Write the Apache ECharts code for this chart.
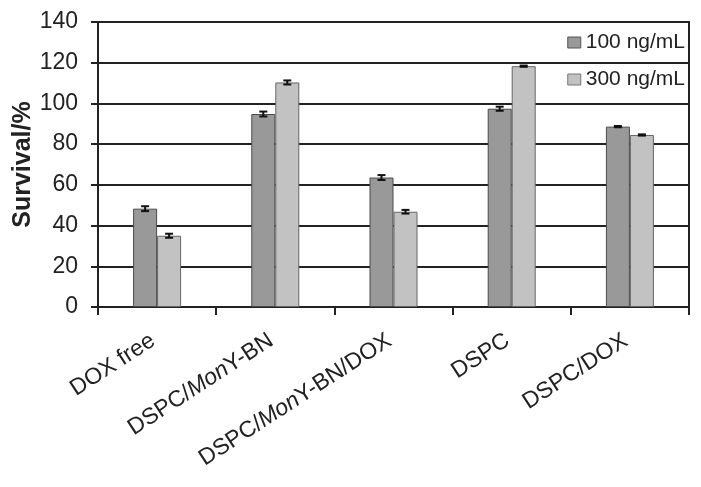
<!DOCTYPE html>
<html><head><meta charset="utf-8">
<script src="https://cdn.jsdelivr.net/npm/echarts@6/dist/echarts.min.js"></script>
<style>html,body{margin:0;padding:0;background:#fff}#c{width:701px;height:487px}</style>
</head><body><div id="c"></div>
<script>
const categories = ['DOX free', 'DSPC/MonY-BN', 'DSPC/MonY-BN/DOX', 'DSPC', 'DSPC/DOX'];
const seriesNames = ['100 ng/mL', '300 ng/mL'];
const values100 = [48.3, 94.8, 63.6, 97.4, 88.6];
const values300 = [35.0, 110.3, 46.8, 118.3, 84.5];
const err100 = [1.2, 1.2, 1.2, 1.0, 0.3];
const err300 = [1.0, 1.0, 0.9, 0.3, 0.3];
const yTicks = [0, 20, 40, 60, 80, 100, 120, 140];

const chart = echarts.init(document.getElementById('c'));
const font = 'Liberation Sans, Arial, sans-serif';

function errSeries(vals, errs, offset) {
  return {
    type: 'custom',
    z: 10,
    silent: true,
    data: vals.map((v, i) => [i, v - errs[i], v + errs[i]]),
    renderItem: function (params, api) {
      const lo = api.coord([api.value(0), api.value(1)]);
      const hi = api.coord([api.value(0), api.value(2)]);
      const x = lo[0] + offset;
      const hw = 4;
      const st = { stroke: '#111', lineWidth: 2 };
      return { type: 'group', children: [
        { type: 'line', shape: { x1: x, y1: lo[1], x2: x, y2: hi[1] }, style: st },
        { type: 'line', shape: { x1: x - hw, y1: lo[1], x2: x + hw, y2: lo[1] }, style: st },
        { type: 'line', shape: { x1: x - hw, y1: hi[1], x2: x + hw, y2: hi[1] }, style: st }
      ]};
    }
  };
}

const labelFmt = function (v) {
  if (v.indexOf('Mon') >= 0) {
    const parts = v.split('Mon');
    return '{a|' + parts[0] + '}{i|Mon}{a|' + parts[1] + '}';
  }
  return '{a|' + v + '}';
};

chart.setOption({
  animation: false,
  textStyle: { fontFamily: font },
  grid: { left: 98, right: 12, top: 22, bottom: 180, show: true, borderColor: '#222', borderWidth: 2,
          containLabel: false, outerBoundsMode: 'none' },
  legend: {
    orient: 'vertical', right: 11, top: 27, itemGap: 16,
    itemWidth: 13, itemHeight: 11, icon: 'rect',
    textStyle: { fontSize: 21, color: '#222', fontFamily: font },
    data: [
      { name: seriesNames[0], itemStyle: { color: '#999999', borderColor: '#555', borderWidth: 1 } },
      { name: seriesNames[1], itemStyle: { color: '#c2c2c2', borderColor: '#777', borderWidth: 1 } }
    ]
  },
  xAxis: {
    type: 'category', data: categories,
    axisLine: { lineStyle: { color: '#222', width: 2 } },
    axisTick: { show: true, length: 8, lineStyle: { color: '#222', width: 2 } },
    axisLabel: {
      rotate: 33, margin: 29, interval: 0, formatter: labelFmt, padding: [0, 5, 0, 0],
      rich: {
        a: { fontSize: 23, color: '#222', fontFamily: font },
        i: { fontSize: 23, color: '#222', fontStyle: 'italic', fontFamily: font }
      }
    }
  },
  yAxis: {
    type: 'value', min: 0, max: 140, interval: 20,
    name: 'Survival/%', nameLocation: 'middle', nameGap: 62, nameMoveOverlap: false,
    nameTextStyle: { fontSize: 25, fontWeight: 'bold', color: '#222', fontFamily: font },
    axisLine: { show: true, lineStyle: { color: '#222', width: 2 } },
    axisTick: { show: true, length: 7, lineStyle: { color: '#222', width: 2 } },
    axisLabel: { fontSize: 23, color: '#222', margin: 20, formatter: v => yTicks.includes(v) ? String(v) : '' },
    splitLine: { show: true, lineStyle: { color: '#222', width: 2 } }
  },
  series: [
    { name: seriesNames[0], type: 'bar', data: values100, barWidth: 24, barGap: '0%',
      itemStyle: { color: '#999999', borderColor: '#4a4a4a', borderWidth: 1 } },
    { name: seriesNames[1], type: 'bar', data: values300, barWidth: 24, barGap: '0%',
      itemStyle: { color: '#c2c2c2', borderColor: '#666666', borderWidth: 1 } },
    errSeries(values100, err100, -12),
    errSeries(values300, err300, 12)
  ]
});
</script></body></html>
